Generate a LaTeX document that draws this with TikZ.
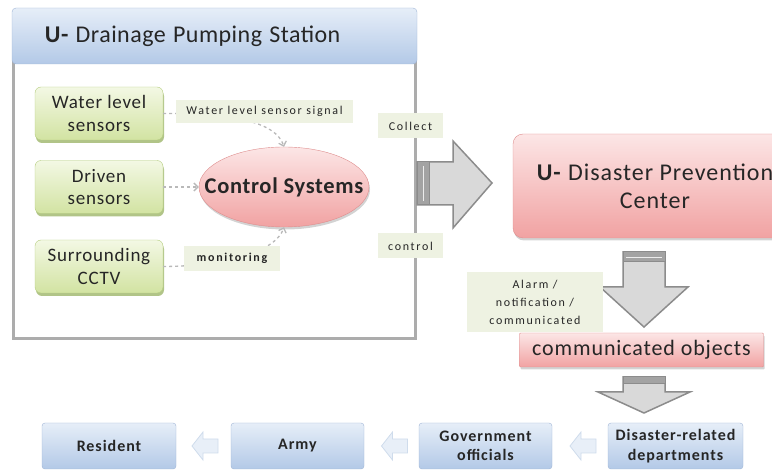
\documentclass[tikz,border=0pt]{standalone}
\usepackage{fontspec}
\setmainfont{Carlito}
\newfontfamily\lblfont{Carlito}[LetterSpace=14]
\newfontfamily\spfont{Carlito}[LetterSpace=4]
\newfontfamily\hdfont{Carlito}[LetterSpace=2]
\newfontfamily\csfont{Carlito}[LetterSpace=3]
\newfontfamily\botfont{Carlito}[LetterSpace=6]
\usetikzlibrary{arrows.meta,shadows,shapes.geometric,calc}
\definecolor{grtop}{HTML}{F3F8E4}
\definecolor{grbot}{HTML}{D2E3A2}
\definecolor{grdraw}{HTML}{B5CD80}
\definecolor{grshadow}{HTML}{9DB56A}
\definecolor{pktop}{HTML}{FCE6E6}
\definecolor{pkbot}{HTML}{F1A2A2}
\definecolor{pkdraw}{HTML}{DE8E8E}
\definecolor{bltop}{HTML}{E6EEF8}
\definecolor{blbot}{HTML}{B3C9E7}
\definecolor{bldraw}{HTML}{9FB5D6}
\definecolor{lblfill}{HTML}{EEF2E2}
\definecolor{arrfill}{HTML}{D9D9D9}
\definecolor{arrdraw}{HTML}{8C8C8C}
\definecolor{arrband}{HTML}{A3A3A3}
\definecolor{txt}{HTML}{262626}
\definecolor{smfill}{HTML}{E8EFF8}
\definecolor{smdraw}{HTML}{CFDCEC}
\begin{document}
\begin{tikzpicture}[x=1pt,y=-1pt,
  hdr/.style={draw=bldraw, rounded corners=4pt, top color=bltop, bottom color=blbot, text=txt},
  sensor/.style={draw=grdraw, rounded corners=6pt, top color=grtop, bottom color=grbot,
     minimum width=128, minimum height=53, align=center, text=txt,
     font=\spfont\fontsize{19}{22.5}\selectfont,
     drop shadow={shadow xshift=1pt, shadow yshift=-3pt, fill=grshadow, opacity=0.8}},
  pink/.style={draw=pkdraw, top color=pktop, bottom color=pkbot, text=txt,
     drop shadow={shadow xshift=1pt, shadow yshift=-2.5pt, fill=gray, opacity=0.35}},
  lbl/.style={fill=lblfill, inner sep=1pt, text=txt, font=\lblfont\fontsize{12}{18}\selectfont},
  dasharrow/.style={draw=gray!55, line width=1.3pt, dash pattern=on 3pt off 3pt,
     -{Straight Barb[length=4pt,width=8pt]}},
  bigarrow/.style={fill=arrfill, draw=arrdraw, line width=1.5pt, line join=miter},
  band/.style={fill=arrband, draw=arrdraw, line width=1pt},
  botbox/.style={draw=bldraw, rounded corners=3pt, top color=bltop, bottom color=blbot,
     minimum height=46, align=center, text=txt,
     font=\botfont\bfseries\fontsize{16}{19.5}\selectfont},
  smallarrow/.pic={\draw[fill=smfill, draw=smdraw, line width=0.8pt]
     (-13,0) -- (-2,-14) -- (-2,-7) -- (13,-7) -- (13,7) -- (-2,7) -- (-2,14) -- cycle;}
]
\useasboundingbox (0,0) rectangle (772,470);

% station body and header
\node[draw=gray!65, line width=3pt, minimum width=402, minimum height=276, inner sep=0] (station) at (214.5,201) {};
\node[hdr, minimum width=405, minimum height=56, text width=339, inner xsep=33, align=left]
  (header) at (214.5,36) {\hdfont\fontsize{24}{28}\selectfont\textbf{U-}\hspace{0.3em}Drainage\hspace{0.3em}Pumping\hspace{0.3em}Station};

% sensors
\node[sensor] (wls) at (99,113.5) {Water level\\sensors};
\node[sensor] (drv) at (99,187) {Driven\\sensors};
\node[sensor] (cctv) at (99,266.5) {Surrounding\\CCTV};

% control systems
\node[pink, ellipse, minimum width=170, minimum height=80, inner xsep=-20pt, inner ysep=0pt,
  font=\csfont\bfseries\fontsize{22.5}{26}\selectfont] (cs) at (284,187) {Control Systems};

% dashed connectors
\draw[dasharrow] (wls.east) .. controls (232,113) and (276,122) .. (cs.north);
\draw[dasharrow] (drv.east) -- (cs.west);
\draw[dasharrow] (cctv.east) .. controls (232,266) and (276,250) .. (cs.south);

% labels
\node[lbl, minimum width=177, minimum height=23] (l1) at (264.5,111.5) {Water level sensor signal};
\node[lbl, minimum width=96, minimum height=25, font=\lblfont\bfseries\fontsize{12}{18}\selectfont] (l2) at (232,258.5) {monitoring};
\node[lbl, minimum width=65, minimum height=25] (lc) at (410.5,126) {Collect};
\node[lbl, minimum width=65, minimum height=25] (lk) at (410.5,246) {control};

% big right arrow
\draw[bigarrow] (417,162) -- (453,162) -- (453,141) -- (492,183) -- (453,228) -- (453,205) -- (417,205) -- cycle;
\draw[band] (417,162) rectangle (429,205);
\draw[white!85!gray, line width=0.8pt] (423,166) -- (423,201);

% disaster prevention center
\node[pink, rounded corners=10pt, minimum width=284, minimum height=104, align=center,
  font=\spfont\fontsize{24}{28}\selectfont] (dpc) at (655,186) {\textbf{U-} Disaster Prevention\\Center};

% down arrow 1
\draw[bigarrow] (623,252) -- (665,252) -- (665,287) -- (688,287) -- (644,327) -- (600,287) -- (623,287) -- cycle;
\draw[band] (623,252) rectangle (665,262);
\draw[white!85!gray, line width=0.8pt] (626,257) -- (662,257);

% alarm label
\node[lbl, minimum width=136, minimum height=60, align=center] (la) at (535,302) {Alarm /\\notification /\\communicated};

% communicated objects
\node[pink, rounded corners=1pt, minimum width=244, minimum height=34,
  font=\spfont\fontsize{22}{24}\selectfont] (co) at (641.5,350) {communicated objects};

% down arrow 2
\draw[bigarrow] (623,377) -- (665,377) -- (665,392) -- (690,392) -- (644,413) -- (598,392) -- (623,392) -- cycle;
\draw[band] (623,377) rectangle (665,384);

% bottom boxes
\node[botbox, minimum width=134] (res) at (109,446) {Resident};
\node[botbox, minimum width=133] (army) at (297.5,446) {Army};
\node[botbox, minimum width=133] (gov) at (485.5,446) {Government\\officials};
\node[botbox, minimum width=135] (dis) at (675.5,446) {Disaster-related\\departments};

% small left arrows between boxes
\pic at ($(res.east)!0.5!(army.west)+(1.5,0)$) {smallarrow};
\pic at ($(army.east)!0.5!(gov.west)+(3,0)$) {smallarrow};
\pic at ($(gov.east)!0.5!(dis.west)+(3,0)$) {smallarrow};
\end{tikzpicture}
\end{document}
